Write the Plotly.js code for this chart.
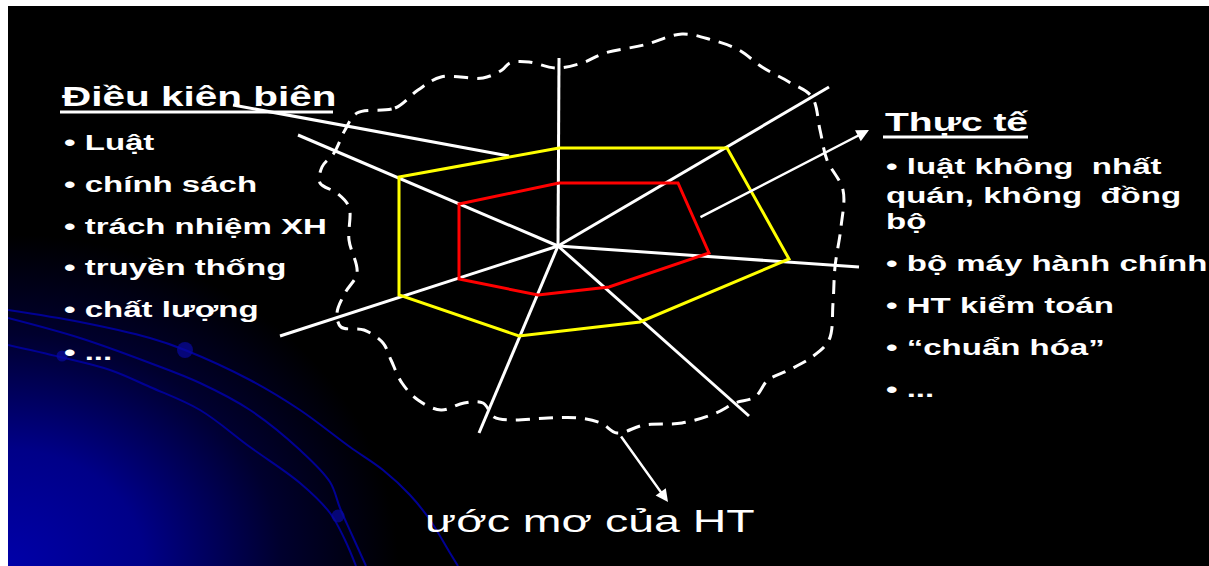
<!DOCTYPE html>
<html>
<head>
<meta charset="utf-8">
<script src="https://cdn.plot.ly/plotly-3.0.1.min.js"></script>
<style>
  html, body { margin: 0; padding: 0; background: #fff; }
  #chart { width: 1209px; height: 566px; }
</style>
</head>
<body>
<div id="chart"></div>
<script>
// ---------- data (slide pixel coordinates, y downward) ----------
const hubX = 558, hubY = 246;
const spokeEndX = [559, 829, 859, 749, 479, 280, 298];
const spokeEndY = [58, 87, 267, 416, 433, 336, 135];

const yellowX = [559, 727, 789, 640, 519, 399, 399];
const yellowY = [148, 148, 259, 322, 336, 295, 177];

const redX = [559, 678, 709, 609, 538, 459, 459];
const redY = [183, 183, 253, 287, 295, 279, 204];

const blobX = [357, 395, 418, 441, 483, 502, 510, 529, 556, 582, 605, 644, 682, 712, 739, 762, 789, 812, 820, 827, 843, 841, 835, 833, 829, 812, 789, 768, 755, 735, 716, 682, 644, 617, 601, 579, 548, 510, 494, 483, 464, 441, 418, 402, 391, 383, 364, 341, 337, 345, 357, 349, 349, 337, 320, 322, 334, 345];
const blobY = [113, 108, 90, 77, 78, 70, 63, 62, 68, 63, 53, 45, 34, 40, 50, 67, 82, 97, 130, 160, 190, 227, 267, 303, 340, 357, 370, 380, 397, 403, 413, 423, 425, 433, 423, 418, 418, 420, 417, 403, 403, 410, 400, 383, 360, 343, 330, 327, 313, 293, 273, 240, 207, 193, 183, 167, 153, 130];

const labelLineX = [233, 509];
const labelLineY = [105, 156];

const arcAX = [8, 80, 150, 185, 250, 300, 350, 383, 410, 430, 450, 458];
const arcAY = [310, 322, 338, 350, 380, 410, 447, 470, 495, 520, 553, 566];
const arcBX = [8, 80, 150, 200, 250, 300, 330, 340, 352, 366];
const arcBY = [318, 338, 363, 383, 410, 450, 482, 508, 535, 566];
const arcCX = [8, 60, 110, 150, 200, 250, 300, 330, 345, 356];
const arcCY = [345, 357, 370, 387, 410, 447, 483, 513, 540, 566];
const dotX = [62, 185, 338];
const dotY = [356, 350, 516];
const dotSize = [11, 16, 13];

// arrows: [tailX, tailY, headX, headY]
const arrowThucTe = [699, 218, 869, 130];
const arrowUocMo = [620, 435, 668, 502];

const leftTitle = 'Điều kiên biên';
const leftItems = ['• Luật', '• chính sách', '• trách nhiệm XH', '• truyền thống', '• chất lượng', '• ...'];
const leftItemY = [142, 184, 226, 267, 309, 352];
const rightTitle = 'Thực tế';
const rightItems = ['• luật không  nhất', 'quán, không  đồng', 'bộ', '• bộ máy hành chính', '• HT kiểm toán', '• “chuẩn hóa”', '• ...'];
const rightItemY = [166, 195, 221, 263, 305, 347, 389];
const bottomLabel = 'ước mơ của HT';

// ---------- build traces ----------
const spokesX = [], spokesY = [];
spokeEndX.forEach((x, i) => { spokesX.push(hubX, x, null); spokesY.push(hubY, spokeEndY[i], null); });

const closeX = a => a.concat([a[0]]);

const blue = '#000094';
const data = [
  {x: arcAX, y: arcAY, mode: 'lines', line: {color: blue, width: 2, shape: 'spline'}},
  {x: arcBX, y: arcBY, mode: 'lines', line: {color: blue, width: 2, shape: 'spline'}},
  {x: arcCX, y: arcCY, mode: 'lines', line: {color: blue, width: 2, shape: 'spline'}},
  {x: dotX, y: dotY, mode: 'markers', marker: {color: '#0808a0', size: dotSize, line: {width: 0}}},
  {x: closeX(blobX), y: closeX(blobY), mode: 'lines', line: {color: '#ffffff', width: 3, dash: '14px,9px', shape: 'spline', smoothing: 1}},
  {x: spokesX, y: spokesY, mode: 'lines', line: {color: '#ffffff', width: 3}},
  {x: labelLineX, y: labelLineY, mode: 'lines', line: {color: '#ffffff', width: 3}},
  {x: closeX(yellowX), y: closeX(yellowY), mode: 'lines', line: {color: '#ffff00', width: 3}},
  {x: closeX(redX), y: closeX(redY), mode: 'lines', line: {color: '#ff0000', width: 3}}
];

// ---------- text ----------
const FONT = 'Liberation Sans, Arial, sans-serif';
const SX = 1.5; // horizontal stretch of the slide text
const anns = [];
function txt(text, x, y, size, weight) {
  anns.push({text: text, x: x, y: y, xref: 'x', yref: 'y', xanchor: 'left', yanchor: 'middle',
    showarrow: false, font: {family: FONT, size: size, color: '#ffffff', weight: weight}});
}
txt(leftTitle, 60, 97, 27, 'bold');
leftItems.forEach((t, i) => txt(t, 62, leftItemY[i], 22, 'bold'));
txt(rightTitle, 883, 122, 26, 'bold');
rightItems.forEach((t, i) => txt(t, 884, rightItemY[i], 22, 'bold'));
txt(bottomLabel, 423, 521, 31, 'normal');

[arrowThucTe, arrowUocMo].forEach(a => anns.push({
  text: '', x: a[2], y: a[3], ax: a[0], ay: a[1], xref: 'x', yref: 'y', axref: 'x', ayref: 'y',
  showarrow: true, arrowhead: 2, arrowsize: 1, arrowwidth: 2.5, arrowcolor: '#ffffff'
}));

// underlines of the two headings
const shapes = [
  {type: 'line', xref: 'x', yref: 'y', x0: 60, x1: 333, y0: 112, y1: 112, line: {color: '#ffffff', width: 3}},
  {type: 'line', xref: 'x', yref: 'y', x0: 883, x1: 1028, y0: 137, y1: 137, line: {color: '#ffffff', width: 3}}
];

// bottom-left blue radial glow
const glowSvg = "<svg xmlns='http://www.w3.org/2000/svg' width='400' height='340' viewBox='0 0 400 340' preserveAspectRatio='none'>" +
  "<defs><radialGradient id='g' gradientUnits='userSpaceOnUse' cx='0' cy='340' r='390' gradientTransform='translate(0,340) scale(1,0.85) translate(0,-340)'>" +
  "<stop offset='0' stop-color='#0000a8'/><stop offset='0.35' stop-color='#000088'/><stop offset='0.7' stop-color='#00002e'/><stop offset='1' stop-color='#000000'/>" +
  "</radialGradient></defs><rect width='400' height='340' fill='url(#g)'/></svg>";

const layout = {
  width: 1209, height: 566,
  margin: {l: 8, t: 6, r: 0, b: 0, pad: 0},
  paper_bgcolor: '#ffffff', plot_bgcolor: '#000000',
  showlegend: false,
  xaxis: {range: [8, 1209], visible: false, fixedrange: true},
  yaxis: {range: [566, 6], visible: false, fixedrange: true},
  annotations: anns,
  shapes: shapes,
  images: [{
    source: 'data:image/svg+xml;charset=utf-8,' + encodeURIComponent(glowSvg),
    xref: 'paper', yref: 'paper', x: 0, y: 0, xanchor: 'left', yanchor: 'bottom',
    sizex: 400 / 1201, sizey: 340 / 560, sizing: 'stretch', layer: 'below'
  }]
};

Plotly.newPlot('chart', data, layout, {staticPlot: true, displayModeBar: false}).then(gd => {
  gd.querySelectorAll('.annotation-text').forEach(t => {
    const bb = t.getBBox();
    if (!bb.width) return;
    const x0 = bb.x;
    t.setAttribute('transform', 'translate(' + x0 + ',0) scale(' + SX + ',1) translate(' + (-x0) + ',0)');
  });
});
</script>
</body>
</html>
